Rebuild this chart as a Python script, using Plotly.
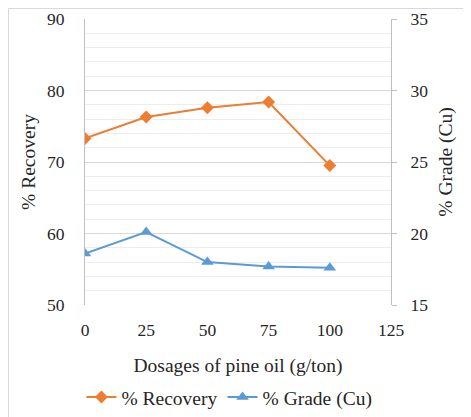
import plotly.graph_objects as go

# Data
dosage = [0, 25, 50, 75, 100]
recovery = [73.3, 76.3, 77.6, 78.4, 69.5]
grade_cu = [18.6, 20.1, 18.0, 17.7, 17.6]

serif = "Liberation Serif"
text_col = "#262626"
orange = "#ED7D31"
blue = "#5B9BD5"
tick_font = dict(family=serif, size=17.5, color=text_col)
title_font = dict(family=serif, size=19.5, color=text_col)

# plot area in figure pixels (page has an 8px body margin)
W, H = 463, 409
L, R, T, B = 77, 80, 11, 112
pw, ph = W - L - R, H - T - B

fig = go.Figure()

fig.add_trace(go.Scatter(
    x=dosage, y=recovery, name="% Recovery",
    mode="lines+markers",
    line=dict(color=orange, width=2),
    marker=dict(symbol="diamond", size=10, color=orange),
))

fig.add_trace(go.Scatter(
    x=dosage, y=grade_cu, name="% Grade (Cu)", yaxis="y2",
    mode="lines+markers",
    line=dict(color=blue, width=2),
    marker=dict(symbol="triangle-up", size=11, color=blue),
))

fig.update_layout(
    width=W, height=H,
    margin=dict(l=L, r=R, t=T, b=B, autoexpand=False),
    paper_bgcolor="white", plot_bgcolor="white",
    font=tick_font,
    showlegend=True,
    legend=dict(orientation="h", x=0.472, xanchor="center", y=-0.255, yanchor="top",
                font=title_font),
    xaxis=dict(
        range=[0, 125], dtick=25, tick0=0, automargin=False,
        showgrid=False, zeroline=False, showline=False,
        ticks="", ticklabelstandoff=12, tickfont=tick_font,
        title=dict(text="Dosages of pine oil (g/ton)", standoff=19, font=title_font),
    ),
    yaxis=dict(
        range=[50, 90], dtick=10, automargin=False,
        showgrid=True, gridcolor="#D9D9D9", gridwidth=1,
        minor=dict(dtick=2, showgrid=True, gridcolor="#EDEDED", gridwidth=1),
        zeroline=False, showline=True, linecolor="#BFBFBF", linewidth=1,
        ticks="", ticklabelstandoff=16, tickfont=tick_font,
        title=dict(text="% Recovery", standoff=6, font=title_font),
    ),
    yaxis2=dict(
        overlaying="y", side="right", automargin=False,
        range=[15, 35], dtick=5,
        showgrid=False, zeroline=False,
        showline=True, linecolor="#BFBFBF", linewidth=1,
        ticks="outside", ticklen=5, tickcolor="#BFBFBF", ticklabelstandoff=10,
        tickfont=tick_font,
        title=dict(text="% Grade (Cu)", standoff=11, font=title_font),
    ),
    shapes=[dict(
        type="rect", xref="paper", yref="paper",
        x0=(0.5 - L) / pw, x1=(W + 10 - L) / pw,
        y0=(ph + T - H - 10) / ph, y1=(ph + T - 0.5) / ph,
        line=dict(color="#D9D9D9", width=1), fillcolor="rgba(0,0,0,0)",
        layer="below",
    )],
)

fig.write_html("out.html")
